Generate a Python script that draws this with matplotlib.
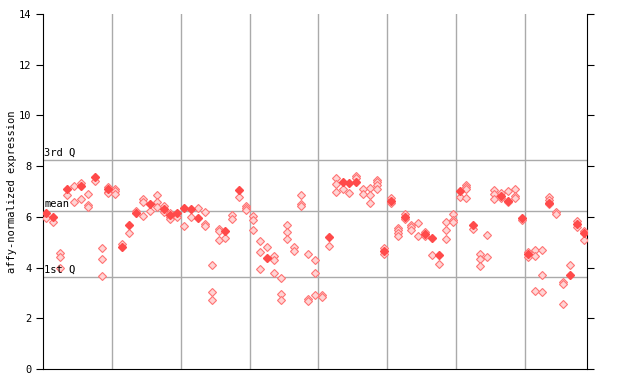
import matplotlib
matplotlib.use('Agg')
import matplotlib.pyplot as plt

# checkered (replicate) points, one list per sample column
replicates = [
    [5.97], [5.78], [4.56, 4.43, 3.97], [6.85], [7.20, 6.58],
    [7.32, 6.70], [6.89, 6.45, 6.37], [7.41], [4.77, 4.33, 3.67], [7.19, 7.00, 6.93],
    [7.10, 7.02, 6.91], [4.93], [5.35], [6.25], [6.69, 6.60, 6.05],
    [6.25], [6.86, 6.57, 6.38], [6.41, 6.18], [6.14, 5.98, 5.91], [5.98],
    [5.64], [5.98], [6.33], [6.18, 5.72, 5.64], [4.10, 3.02, 2.71],
    [5.54, 5.45, 5.07], [5.15], [6.07, 5.90], [6.80], [6.43, 6.33, 6.27],
    [6.03, 5.86, 5.50], [5.03, 4.60, 3.93], [4.80], [4.47, 4.30, 3.77], [3.58, 2.95, 2.71],
    [5.66, 5.39, 5.11], [4.82, 4.64], [6.85, 6.49, 6.41], [4.52, 2.75, 2.68], [4.28, 3.77, 2.92],
    [2.92, 2.83], [4.84], [7.52, 7.28, 7.00], [7.10], [6.93],
    [7.61, 7.52], [7.10, 6.90], [7.12, 6.85, 6.53], [7.45, 7.36, 7.26, 7.08], [4.78, 4.52],
    [6.73, 6.53], [5.57, 5.47, 5.36, 5.26], [6.13, 5.90], [5.68, 5.60, 5.49], [5.74, 5.24],
    [5.42, 5.26], [4.50], [4.13], [5.78, 5.47, 5.11], [6.10, 5.88, 5.78],
    [6.77], [7.26, 7.16, 7.08, 6.73], [5.54], [4.52, 4.33, 4.05], [5.27, 4.40],
    [7.06, 6.89, 6.72], [6.93, 6.74], [7.02, 6.58], [7.08, 6.81, 6.73], [5.88],
    [4.60, 4.40], [4.68, 4.44, 3.06], [4.68, 3.69, 3.02], [6.77, 6.68, 6.49], [6.21, 6.13],
    [3.42, 3.34, 2.55], [4.10], [5.82, 5.61], [5.43, 5.07],
]

# solid points (mean of the sample), None where there is none
means = [
    6.17, 5.98, None, 7.10, None, 7.21, None, 7.58, None, 7.10,
    None, 4.82, 5.68, 6.16, None, 6.51, None, 6.31, 6.07, 6.17,
    6.36, 6.32, 5.97, None, None, None, 5.45, None, 7.06, None,
    None, None, 4.39, None, None, None, None, None, None, None,
    None, 5.22, None, 7.39, 7.35, 7.39, None, None, None, 4.66,
    6.64, None, 6.00, None, None, 5.34, 5.15, 4.48, None, None,
    7.03, None, 5.66, None, None, None, 6.83, 6.64, None, 5.97,
    4.52, None, None, 6.56, None, None, 3.69, 5.70, 5.35,
]

q3, mean_all, q1 = 8.24, 6.23, 3.63
group_edges = [10, 20, 30, 40, 50, 60, 70]
n_samples = len(replicates)

rx, ry = [], []
for i, vals in enumerate(replicates):
    for v in vals:
        rx.append(i + 0.5)
        ry.append(v)
mx = [i + 0.5 for i, v in enumerate(means) if v is not None]
my = [v for v in means if v is not None]

fig = plt.figure(figsize=(6.4, 3.84), dpi=100)
ax = fig.add_axes([43 / 640, 15 / 384, 544 / 640, 355 / 384])

for xe in group_edges:
    ax.axvline(xe, color='#aaaaaa', lw=1, zorder=1)
for yq in (q3, mean_all, q1):
    ax.axhline(yq, color='#aaaaaa', lw=1, zorder=1)

ax.plot(rx, ry, 'D', ms=3.9, mfc='#ffd4d4', mec='#ff7373', mew=0.8, zorder=3)
ax.plot(mx, my, 'D', ms=4.3, mfc='#ff4a4a', mec='#ff4a4a', zorder=4)

fnt = dict(family='DejaVu Sans Mono', fontsize=7.5)
ax.text(0.15, q3 + 0.08, '3rd Q', va='bottom', ha='left', **fnt)
ax.text(0.15, mean_all + 0.08, 'mean', va='bottom', ha='left', **fnt)
ax.text(0.15, q1 + 0.08, '1st Q', va='bottom', ha='left', **fnt)

ax.set_xlim(0, n_samples)
ax.set_ylim(0, 14)
ax.set_yticks(range(0, 15, 2))
ax.set_xticks([])
ax.tick_params(axis='y', direction='out', length=5, labelsize=7.5, right=True,
               labelright=False)
for lab in ax.get_yticklabels():
    lab.set_family('DejaVu Sans Mono')
ax.spines['top'].set_visible(False)
ax.set_ylabel('affy-normalized expression', family='DejaVu Sans Mono', fontsize=7.5,
              labelpad=1)

fig.savefig('out.png', dpi=100)
